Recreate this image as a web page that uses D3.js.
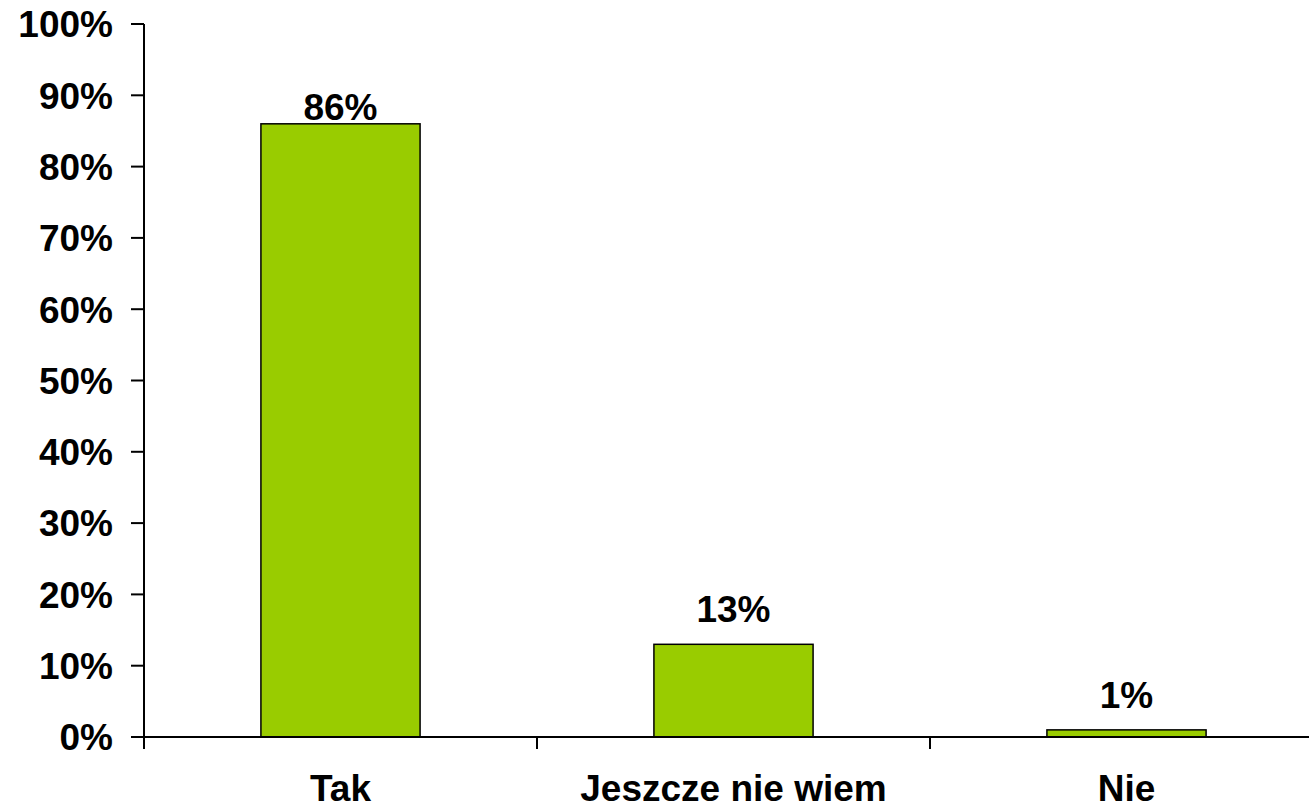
<!DOCTYPE html>
<html>
<head>
<meta charset="utf-8">
<script src="https://cdn.jsdelivr.net/npm/d3@7"></script>
<style>
    body { margin: 0; background: #fff; }
    svg { display: block; }
    text { font-family: "Liberation Sans", Arial, sans-serif; font-weight: bold; fill: #000; }
</style>
</head>
<body>
<div id="chart"></div>
<script>
const categories = ["Tak", "Jeszcze nie wiem", "Nie"];
const values = [0.86, 0.13, 0.01];
const yTicks = [0, 0.1, 0.2, 0.3, 0.4, 0.5, 0.6, 0.7, 0.8, 0.9, 1];

const width = 1309;
const height = 811;
const margin = { top: 24, right: -14, bottom: 74, left: 144 };
const innerWidth = width - margin.left - margin.right;
const innerHeight = height - margin.top - margin.bottom;
const barColor = "#99cc00";

const data = categories.map((c, i) => ({ category: c, value: values[i] }));

const svg = d3.select("#chart")
    .append("svg")
    .attr("width", width)
    .attr("height", height);

const innerChart = svg.append("g")
    .attr("transform", `translate(${margin.left},${margin.top})`);

const xScale = d3.scaleBand()
    .domain(categories)
    .range([0, innerWidth])
    .paddingInner(0.595)
    .paddingOuter(0.2975);

const yScale = d3.scaleLinear()
    .domain([0, 1])
    .range([innerHeight, 0]);

// bars
innerChart.selectAll("rect.bar")
    .data(data)
    .join("rect")
    .attr("class", "bar")
    .attr("x", d => xScale(d.category))
    .attr("y", d => yScale(d.value))
    .attr("width", xScale.bandwidth())
    .attr("height", d => innerHeight - yScale(d.value))
    .attr("fill", barColor)
    .attr("stroke", "#000")
    .attr("stroke-width", 1.5);

// value labels (the tallest one sits tight on its bar, like the original)
innerChart.selectAll("text.value")
    .data(data)
    .join("text")
    .attr("class", "value")
    .attr("x", d => xScale(d.category) + xScale.bandwidth() / 2)
    .attr("y", d => d.value > 0.8 ? yScale(d.value) - 4 : yScale(d.value) - 22)
    .attr("text-anchor", "middle")
    .style("font-size", "37px")
    .text(d => d3.format(".0%")(d.value));

// y axis
const yAxis = innerChart.append("g").attr("class", "y-axis");
yAxis.append("line")
    .attr("x1", 0).attr("x2", 0)
    .attr("y1", yScale(1)).attr("y2", innerHeight + 12)
    .attr("stroke", "#000").attr("stroke-width", 2);
yAxis.selectAll("line.tick")
    .data(yTicks)
    .join("line")
    .attr("class", "tick")
    .attr("x1", -13).attr("x2", 0)
    .attr("y1", d => yScale(d)).attr("y2", d => yScale(d))
    .attr("stroke", "#000").attr("stroke-width", 2);
yAxis.selectAll("text")
    .data(yTicks)
    .join("text")
    .attr("x", -31)
    .attr("y", d => yScale(d))
    .attr("dy", "0.36em")
    .attr("text-anchor", "end")
    .style("font-size", "37px")
    .text(d => d3.format(".0%")(d));

// x axis
const xAxis = innerChart.append("g").attr("class", "x-axis")
    .attr("transform", `translate(0,${innerHeight})`);
xAxis.append("line")
    .attr("x1", 0).attr("x2", innerWidth)
    .attr("stroke", "#000").attr("stroke-width", 2);
const step = xScale.step();
xAxis.selectAll("line.tick")
    .data(categories.slice(1))
    .join("line")
    .attr("class", "tick")
    .attr("x1", d => xScale(d) - (step - xScale.bandwidth()) / 2)
    .attr("x2", d => xScale(d) - (step - xScale.bandwidth()) / 2)
    .attr("y1", 0).attr("y2", 12)
    .attr("stroke", "#000").attr("stroke-width", 2);
xAxis.selectAll("text")
    .data(categories)
    .join("text")
    .attr("x", d => xScale(d) + xScale.bandwidth() / 2)
    .attr("y", 64)
    .attr("text-anchor", "middle")
    .style("font-size", "37px")
    .text(d => d);
</script>
</body>
</html>
